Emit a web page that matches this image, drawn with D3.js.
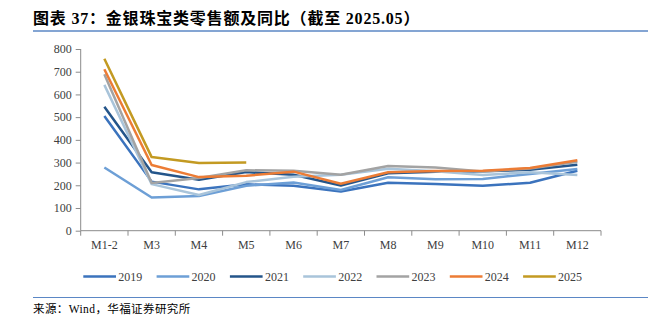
<!DOCTYPE html>
<html><head><meta charset="utf-8">
<script src="https://cdn.jsdelivr.net/npm/d3@7"></script>
<style>
body{margin:0;background:#fff;}
svg{display:block;}
</style></head>
<body>
<svg id="c" width="648" height="328"></svg>
<script>
const categories = ["M1-2","M3","M4","M5","M6","M7","M8","M9","M10","M11","M12"];
const years = ["2019","2020","2021","2022","2023","2024","2025"];
const s2019 = [505,216,182,204,198,173,211,206,198,211,264];
const s2020 = [278,146,153,198,212,179,235,226,228,250,272];
const s2021 = [546,257,224,258,246,199,253,260,262,268,290];
const s2022 = [642,205,157,214,238,246,273,262,245,257,245];
const s2023 = [689,210,232,266,264,246,285,278,261,274,304];
const s2024 = [711,289,236,242,260,207,257,263,264,276,310];
const s2025 = [757,324,298,300];
const yTicks = [0,100,200,300,400,500,600,700,800];
const colors = ["#3b73bd","#6d9fd6","#24558a","#a9c4da","#a3a3a3","#ec7c35","#c39a22"];
const seriesList = [s2019,s2020,s2021,s2022,s2023,s2024,s2025];

const svg = d3.select("#c");
const serif = "'Liberation Serif','Times New Roman',serif";
const cjk = "'Liberation Serif','Noto Sans CJK SC',serif";

// Title
svg.append("text").attr("x",33).attr("y",24)
  .attr("font-family",cjk).attr("font-weight","bold").attr("font-size",16)
  .attr("letter-spacing",0.8)
  .attr("fill","#000").text("图表 37：金银珠宝类零售额及同比（截至 2025.05）");
svg.append("line").attr("x1",33).attr("x2",648).attr("y1",31).attr("y2",31)
  .attr("stroke","#5b87c5").attr("stroke-width",1.5);

const x = d3.scaleBand().domain(categories).range([80.7,601]);
const y = d3.scaleLinear().domain([0,800]).range([230.7,49]);

// Y axis
const yAxis = svg.append("g").attr("transform","translate(80.7,0)")
  .call(d3.axisLeft(y).tickValues(yTicks).tickSize(5).tickPadding(4));
yAxis.selectAll("path,line").attr("stroke","#8c8c8c");
yAxis.select(".domain").attr("d","M0,49V230.7");
yAxis.selectAll("text").attr("font-family",serif).attr("font-size",12).attr("fill","#404040");

// X axis
const xAxis = svg.append("g").attr("transform","translate(0,230.7)")
  .call(d3.axisBottom(x).tickSize(0).tickPadding(10));
xAxis.selectAll("path").attr("stroke","#8c8c8c").attr("d","M80.7,0H601");
xAxis.selectAll("text").attr("font-family",serif).attr("font-size",12).attr("fill","#404040");
const bounds = categories.map(c=>x(c)).concat([x.range()[1]]);
xAxis.selectAll("line.b").data(bounds).enter().append("line")
  .attr("x1",d=>d).attr("x2",d=>d).attr("y1",0).attr("y2",5).attr("stroke","#8c8c8c");

// Lines
const line = d3.line().x((d,i)=>x(categories[i])+x.bandwidth()/2).y(d=>y(d));
seriesList.forEach((s,k)=>{
  svg.append("path").datum(s).attr("d",line).attr("fill","none")
    .attr("stroke",colors[k]).attr("stroke-width",2.5).attr("stroke-linejoin","round");
});

// Legend
const lg = svg.append("g");
years.forEach((yr,k)=>{
  const lx = 83.3 + k*73.3;
  lg.append("line").attr("x1",lx).attr("x2",lx+32.7).attr("y1",276.5).attr("y2",276.5)
    .attr("stroke",colors[k]).attr("stroke-width",2.5);
  lg.append("text").attr("x",lx+35).attr("y",280.5).attr("font-family",serif)
    .attr("font-size",12).attr("fill","#404040").text(yr);
});

// Bottom rule and source
svg.append("line").attr("x1",33).attr("x2",648).attr("y1",297.5).attr("y2",297.5)
  .attr("stroke","#5b87c5").attr("stroke-width",1.2);
svg.append("text").attr("x",33).attr("y",313).attr("font-family",cjk)
  .attr("font-size",11.5).attr("letter-spacing",0.4).attr("fill","#000").text("来源：Wind，华福证券研究所");
</script>
</body></html>
